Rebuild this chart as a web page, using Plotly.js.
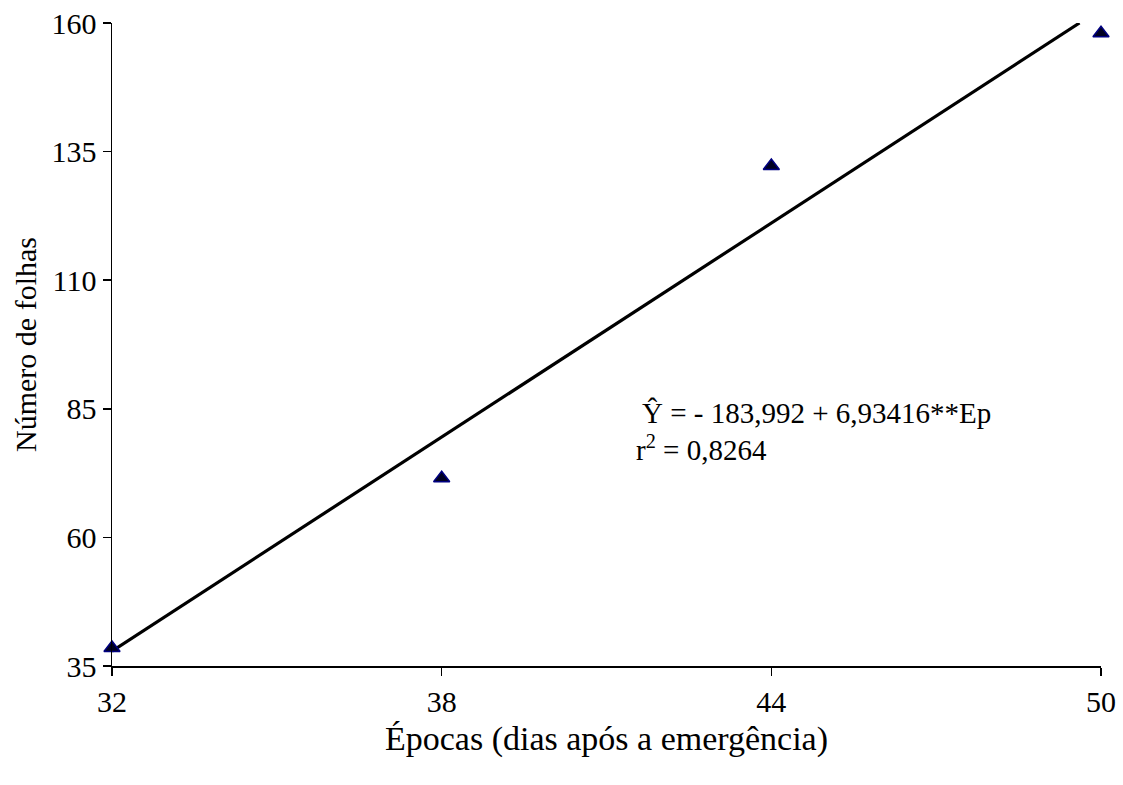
<!DOCTYPE html>
<html>
<head>
<meta charset="utf-8">
<script src="https://cdn.plot.ly/plotly-3.0.1.min.js"></script>
<style>html,body{margin:0;padding:0;background:#fff;}#chart{width:1123px;height:785px;}</style>
</head>
<body>
<div id="chart"></div>
<script>
const epocas = [32, 38, 44, 50];
const folhas = [38.5, 71.5, 132.2, 158.0];
const coefIntercept = -183.992;
const coefSlope = 6.93416;
const xTicks = [32, 38, 44, 50];
const yTicks = [35, 60, 85, 110, 135, 160];
const eqText = "Ŷ = - 183,992 + 6,93416**Ep";
const r2Text = "r<sup>2</sup> = 0,8264";

const yMax = 160;
const lineX = [32, (yMax - coefIntercept) / coefSlope];
const lineY = lineX.map(x => coefIntercept + coefSlope * x);

function F(s) { return {family: "Liberation Serif", size: s, color: "#000000"}; }

const data = [
  {x: lineX, y: lineY, mode: "lines", line: {color: "#000", width: 3.2}, hoverinfo: "skip", cliponaxis: false},
  {x: epocas, y: folhas, mode: "markers", cliponaxis: false,
   marker: {symbol: "triangle-up", size: 14, color: "#000022", line: {color: "#000080", width: 1.5}}}
];

const layout = {
  width: 1123, height: 785,
  margin: {l: 112, r: 22, t: 23, b: 119},
  paper_bgcolor: "#fff", plot_bgcolor: "#fff",
  showlegend: false,
  font: F(30),
  xaxis: {
    range: [32, 50], tickvals: xTicks, ticktext: xTicks.map(String),
    showline: true, linecolor: "#000", linewidth: 1.5, showgrid: false, zeroline: false,
    ticks: "outside", ticklen: 8, tickwidth: 1.5, tickcolor: "#000",
    tickfont: F(30),
    title: {text: "Épocas (dias após a emergência)", font: F(34), standoff: 9}
  },
  yaxis: {
    range: [35, 160], tickvals: yTicks, ticktext: yTicks.map(String),
    showline: true, linecolor: "#000", linewidth: 1.5, showgrid: false, zeroline: false,
    ticks: "outside", ticklen: 8, tickwidth: 1.5, tickcolor: "#000",
    tickfont: F(30),
    title: {text: "Número de folhas", font: F(30), standoff: 6}
  },
  annotations: [
    {x: 41.61, y: 84.2, xref: "x", yref: "y", text: eqText, showarrow: false, xanchor: "left", yanchor: "middle", font: F(29)},
    {x: 41.5, y: 77.3, xref: "x", yref: "y", text: r2Text, showarrow: false, xanchor: "left", yanchor: "middle", font: F(29)}
  ]
};

Plotly.newPlot("chart", data, layout, {displayModeBar: false, staticPlot: true});
</script>
</body>
</html>
